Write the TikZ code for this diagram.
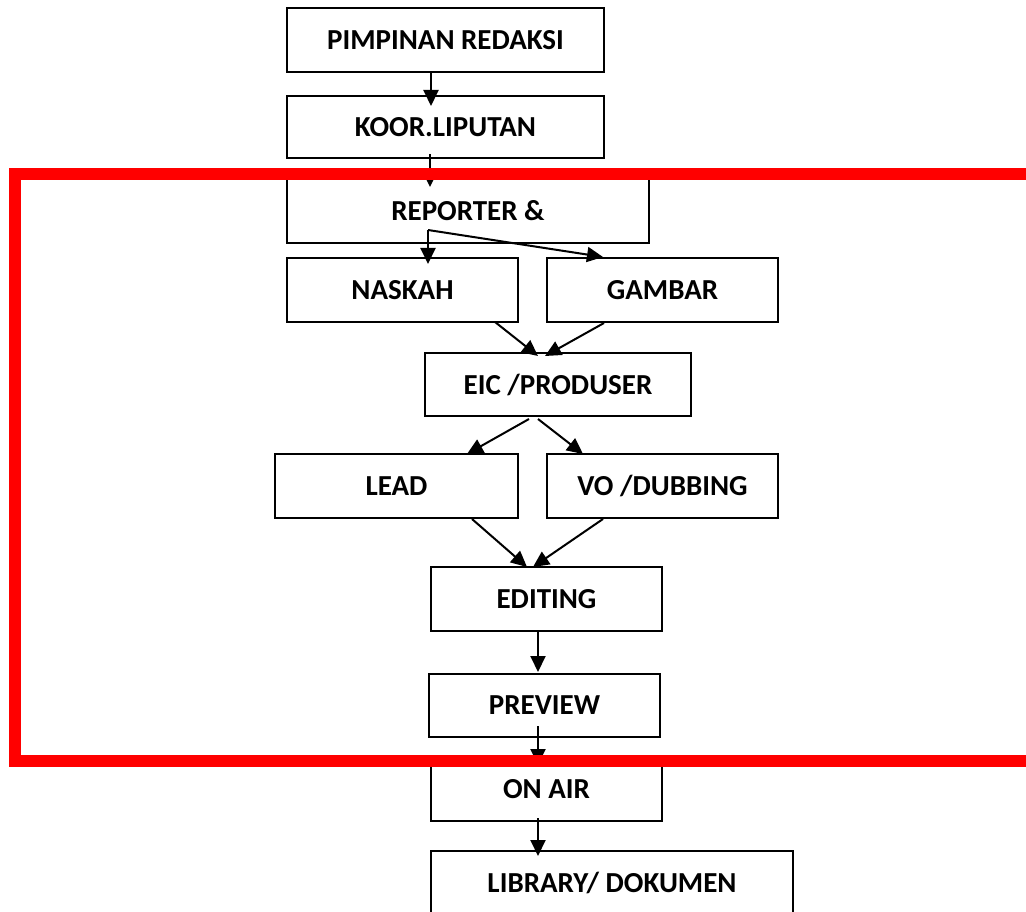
\documentclass[tikz,border=0pt]{standalone}
\usepackage{fontspec}
\setmainfont{Carlito}
\usetikzlibrary{arrows.meta}

\begin{document}
\begin{tikzpicture}[x=1pt,y=-1pt,
  box/.style={draw,line width=2pt,inner sep=0pt,minimum height=64pt,
    font=\bfseries\fontsize{29}{34}\selectfont},
  link/.style={line width=2pt,-{Triangle[length=16pt,width=15pt]}}]
\useasboundingbox (0,0) rectangle (1026,912);
\node[box,minimum width=317pt] (pimpinan) at (445.5,40) {PIMPINAN REDAKSI};
\node[box,minimum width=317pt,minimum height=62pt] (koor) at (445.5,127) {KOOR.LIPUTAN};
\node[box,minimum width=362pt,minimum height=65pt] (reporter) at (468,210.5) {REPORTER \&};
\node[box,minimum width=231pt] (naskah) at (402.5,290) {NASKAH};
\node[box,minimum width=231pt] (gambar) at (662.5,290) {GAMBAR};
\node[box,minimum width=266pt,minimum height=63pt] (eic) at (558,384.5) {EIC /PRODUSER};
\node[box,minimum width=243pt] (lead) at (396.5,486) {LEAD};
\node[box,minimum width=231pt] (vo) at (662.5,486) {VO /DUBBING};
\node[box,minimum width=231pt] (editing) at (546.5,599) {EDITING};
\node[box,minimum width=231pt,minimum height=63pt] (preview) at (544.5,705.5) {PREVIEW};
\node[box,minimum width=231pt] (onair) at (546.5,789) {ON AIR};
\node[box,minimum width=362pt] (library) at (612,883) {LIBRARY/ DOKUMEN};
\coordinate (fork) at ([xshift=-40pt,yshift=14pt]reporter.south);
\draw[link] ([xshift=-14.5pt]pimpinan.south) -- ([xshift=-14.5pt,yshift=-11pt]koor.north);
\draw[link] ([xshift=-15.5pt,yshift=5pt]koor.south) -- ([xshift=-38pt,yshift=-10pt]reporter.north);
\draw[link] (fork) -- ([xshift=25.5pt,yshift=-7pt]naskah.north);
\draw[link] (fork) -- ([xshift=-59.5pt]gambar.north);
\draw[link] ([xshift=92.5pt,yshift=1pt]naskah.south) -- ([xshift=-20pt,yshift=-4pt]eic.north);
\draw[link] ([xshift=-58.5pt]gambar.south) -- ([xshift=-13pt,yshift=-4pt]eic.north);
\draw[link] ([xshift=-29pt,yshift=-2pt]eic.south) -- ([xshift=70.5pt,yshift=-1pt]lead.north);
\draw[link] ([xshift=-20pt,yshift=-2pt]eic.south) -- ([xshift=-79.5pt,yshift=-1pt]vo.north);
\draw[link] ([xshift=75.5pt]lead.south) -- ([xshift=-19.5pt,yshift=-1pt]editing.north);
\draw[link] ([xshift=-59.5pt]vo.south) -- ([xshift=-13.5pt,yshift=-1pt]editing.north);
\draw[link] ([xshift=-8.5pt]editing.south) -- ([xshift=-6.5pt,yshift=1pt]preview.north);
\draw[link] ([xshift=-6.5pt,yshift=12pt]preview.south) -- ([xshift=-8.5pt,yshift=-9pt]onair.north);
\draw[link] ([xshift=-8.5pt,yshift=4pt]onair.south) -- ([xshift=-74pt,yshift=-6pt]library.north);
\draw[red,line width=12pt] (15,174) rectangle (1032,761);
\end{tikzpicture}
\end{document}
